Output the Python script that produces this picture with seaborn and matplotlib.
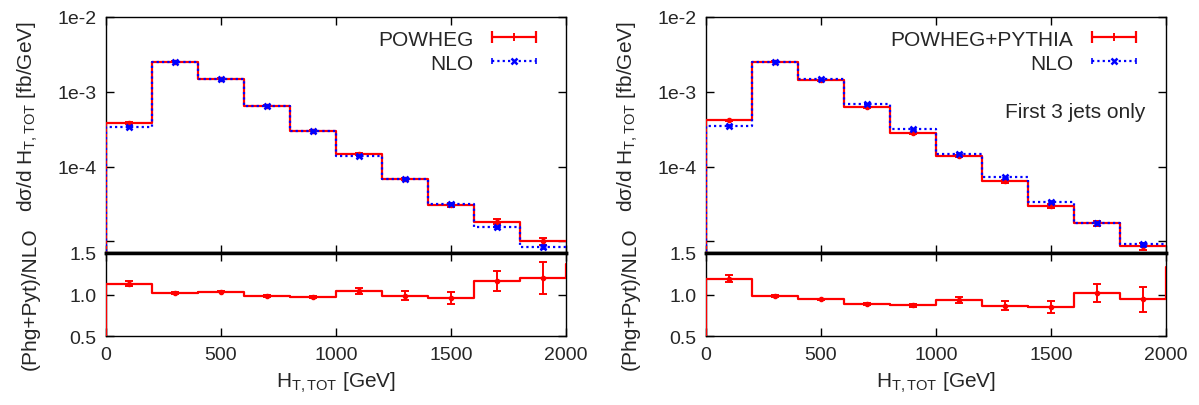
import numpy as np
import pandas as pd
import seaborn as sns
import matplotlib.pyplot as plt
from matplotlib.lines import Line2D
from matplotlib.legend_handler import HandlerLine2D

sns.set_style('ticks')
plt.rcParams['font.family'] = ['Liberation Sans', 'DejaVu Sans']
plt.rcParams['mathtext.fontset'] = 'custom'
plt.rcParams['mathtext.rm'] = 'Liberation Sans'
plt.rcParams['mathtext.it'] = 'Liberation Sans:italic'

#### H_T,TOT spectra, 200 GeV bins
edges = [0, 200, 400, 600, 800, 1000, 1200, 1400, 1600, 1800, 2000]
centers = [100, 300, 500, 700, 900, 1100, 1300, 1500, 1700, 1900]

# left: POWHEG vs NLO
powheg_l = [3.83e-4, 2.53e-3, 1.49e-3, 6.55e-4, 3.0e-4, 1.46e-4, 6.86e-5, 3.07e-5, 1.84e-5, 1.0e-5]
powheg_l_err = [1.2e-5, 3e-5, 2e-5, 8e-6, 4e-6, 4e-6, 2.5e-6, 1.8e-6, 1.4e-6, 1.0e-6]
nlo_l = [3.42e-4, 2.53e-3, 1.47e-3, 6.55e-4, 2.98e-4, 1.40e-4, 6.86e-5, 3.2e-5, 1.58e-5, 8.45e-6]
nlo_l_err = [6e-6, 2e-5, 1.5e-5, 6e-6, 3e-6, 2e-6, 1e-6, 6e-7, 5e-7, 4e-7]
ratio_l = [1.13, 1.02, 1.035, 0.98, 0.97, 1.045, 0.985, 0.955, 1.16, 1.20]
ratio_l_err = [0.03, 0.01, 0.01, 0.01, 0.015, 0.035, 0.055, 0.075, 0.12, 0.19]
ratio_l_over = 1.37

# right: POWHEG+PYTHIA vs NLO (first 3 jets only)
powheg_r = [4.14e-4, 2.53e-3, 1.42e-3, 6.17e-4, 2.79e-4, 1.38e-4, 6.38e-5, 2.95e-5, 1.74e-5, 8.6e-6]
powheg_r_err = [1.2e-5, 3e-5, 2e-5, 8e-6, 4e-6, 4e-6, 2.5e-6, 1.8e-6, 1.4e-6, 1.0e-6]
nlo_r = [3.52e-4, 2.53e-3, 1.49e-3, 6.9e-4, 3.18e-4, 1.48e-4, 7.2e-5, 3.4e-5, 1.74e-5, 9.1e-6]
nlo_r_err = [6e-6, 2e-5, 1.5e-5, 6e-6, 3e-6, 2e-6, 1e-6, 6e-7, 5e-7, 4e-7]
ratio_r = [1.19, 0.985, 0.94, 0.887, 0.87, 0.935, 0.867, 0.85, 1.02, 0.94]
ratio_r_err = [0.04, 0.01, 0.01, 0.01, 0.015, 0.04, 0.055, 0.075, 0.11, 0.15]
ratio_r_over = 1.33

panels = [
    ('POWHEG', powheg_l, powheg_l_err, nlo_l, nlo_l_err, ratio_l, ratio_l_err, ratio_l_over, None),
    ('POWHEG+PYTHIA', powheg_r, powheg_r_err, nlo_r, nlo_r_err, ratio_r, ratio_r_err, ratio_r_over, 'First 3 jets only'),
]

FS = 15     # text size
TFS = 14    # tick label size

W, H = 1199, 406
fig = plt.figure(figsize=(W / 100, H / 100), dpi=100)

def steps(vals, floor, over=None):
    # histogram outline: rise from the floor at x=0, end at the last edge
    x = [edges[0]] + list(edges)
    y = [floor] + list(vals) + [vals[-1]]
    if over is not None:
        # overflow bin past 2000 only shows as the rise at the right edge
        x = x + [edges[-1] + 200]
        y = y[:-1] + [over, over]
    return pd.DataFrame({'x': x, 'y': y})

def style_ax(ax):
    ax.tick_params(direction='in', length=6, width=1, top=True, right=True,
                   labelsize=TFS, pad=7, color='black')
    ax.tick_params(which='minor', length=0)
    for s in ax.spines.values():
        s.set_linewidth(1.0)
        s.set_color('black')

for i, (name, pw, pw_err, nlo, nlo_err, rat, rat_err, over, note) in enumerate(panels):
    x0 = 106 + i * 600
    left, width = x0 / W, 460 / W
    ax = fig.add_axes([left, 1 - 254 / H, width, 236 / H])
    axr = fig.add_axes([left, 1 - 337 / H, width, 83 / H])

    # spectra
    ax.set_yscale('log')
    d = steps(pw, 1e-8)
    sns.lineplot(data=d, x='x', y='y', ax=ax, estimator=None, sort=False,
                 drawstyle='steps-post', color='red', lw=1.6, zorder=3)
    ax.errorbar(centers, pw, yerr=pw_err, fmt='o', ms=3, color='red', capsize=3,
                elinewidth=1.4, capthick=1.4, zorder=4)
    d = steps(nlo, 1e-8)
    sns.lineplot(data=d, x='x', y='y', ax=ax, estimator=None, sort=False,
                 drawstyle='steps-post', color='blue', lw=1.6, zorder=5,
                 linestyle=(0, (1, 1.4)))
    ax.errorbar(centers, nlo, yerr=nlo_err, fmt='x', ms=5, mew=1.8, color='blue',
                capsize=2.5, elinewidth=1.2, zorder=6)
    ax.set_xlim(0, 2000)
    ax.set_ylim(7e-6, 1e-2)
    ax.set_yticks([1e-5, 1e-4, 1e-3, 1e-2])
    ax.set_yticklabels(['', '1e-4', '1e-3', '1e-2'])
    ax.set_xticks([0, 500, 1000, 1500, 2000])
    ax.set_xticklabels([])
    ax.set_xlabel('')
    ax.set_ylabel('')
    style_ax(ax)
    ax.spines['bottom'].set_linewidth(2.5)

    # legend, gnuplot style: text first, sample on the right
    cap_r = Line2D([], [], color='red', lw=1.6, marker='|', ms=9, mew=1.6)
    mid_r = Line2D([], [], color='red', lw=0, marker='+', ms=6, mew=1.4)
    cap_b = Line2D([], [], color='blue', lw=1.6, ls=(0, (1, 1.4)), marker='|', ms=5, mew=1.2)
    mid_b = Line2D([], [], color='blue', lw=0, marker='x', ms=5, mew=1.8)
    hm = {cap_r: HandlerLine2D(numpoints=2), mid_r: HandlerLine2D(numpoints=1),
          cap_b: HandlerLine2D(numpoints=2), mid_b: HandlerLine2D(numpoints=1)}
    ax.legend([(cap_r, mid_r), (cap_b, mid_b)], [name, 'NLO'], handler_map=hm,
              loc='upper right', frameon=False, markerfirst=False, fontsize=FS,
              handlelength=2.7, handletextpad=0.6, labelspacing=0.25,
              borderaxespad=0.2, bbox_to_anchor=(0.975, 1.0))
    if note:
        ax.text(0.955, 0.60, note, transform=ax.transAxes, ha='right', va='center',
                fontsize=FS)

    # ratio
    d = steps(rat, 0.0, over)
    sns.lineplot(data=d, x='x', y='y', ax=axr, estimator=None, sort=False,
                 drawstyle='steps-post', color='red', lw=1.6, zorder=3)
    axr.errorbar(centers, rat, yerr=rat_err, fmt='o', ms=3, color='red', capsize=3,
                 elinewidth=1.4, capthick=1.4, zorder=4)
    axr.set_xlim(0, 2000)
    axr.set_ylim(0.5, 1.5)
    axr.set_yticks([0.5, 1.0, 1.5])
    axr.set_yticklabels(['0.5', '1.0', '1.5'])
    axr.set_xticks([0, 500, 1000, 1500, 2000])
    axr.set_xticklabels(['0', '500', '1000', '1500', '2000'])
    axr.set_xlabel('')
    axr.set_ylabel('')
    style_ax(axr)
    axr.spines['top'].set_linewidth(2.5)

    fig.text((x0 - 78) / W, 1 - 117 / H, 'dσ/d H$_{\\rm T,TOT}$ [fb/GeV]', rotation=90,
             ha='center', va='center', fontsize=FS)
    fig.text((x0 - 76) / W, 1 - 299 / H, '(Phg+Pyt)/NLO', rotation=90,
             ha='center', va='center', fontsize=FS)
    fig.text((x0 + 230) / W, 1 - 383 / H, 'H$_{\\rm T,TOT}$ [GeV]',
             ha='center', va='center', fontsize=FS)

fig.savefig('out.png', dpi=100)
